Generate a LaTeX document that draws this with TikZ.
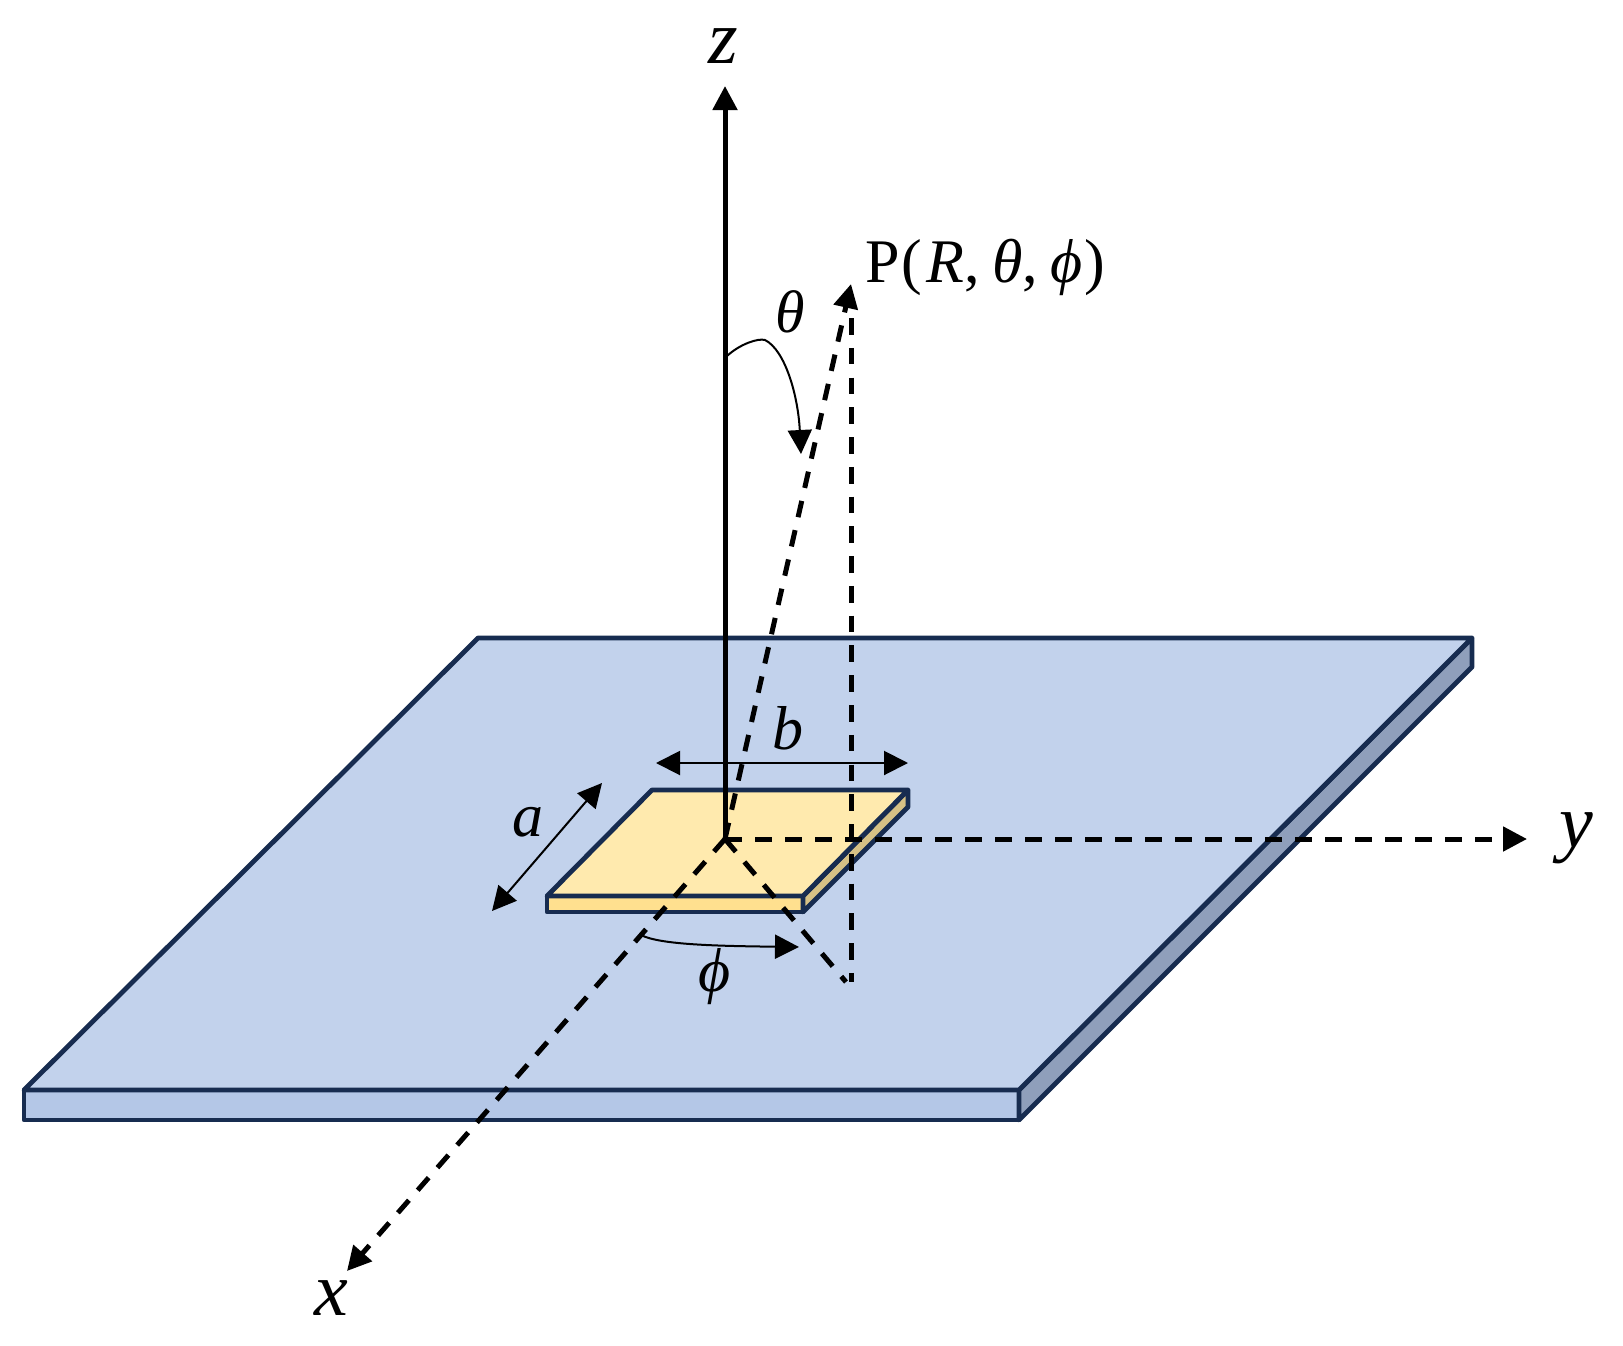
\documentclass[tikz,border=0pt]{standalone}
\usepackage{fontspec}
\setmainfont{Liberation Serif}
\usetikzlibrary{arrows.meta}
\definecolor{plateTop}{HTML}{C2D2EC}
\definecolor{plateFront}{HTML}{B4C7E7}
\definecolor{plateSide}{HTML}{8F9FBB}
\definecolor{edgeNavy}{HTML}{172C50}
\definecolor{patchTop}{HTML}{FFEAAE}
\definecolor{patchFront}{HTML}{FFE08F}
\definecolor{patchSide}{HTML}{D6C185}
\tikzset{
  x=1pt,y=-1pt,
  solid face/.style={draw=edgeNavy,line width=4.8pt,line join=round},
  head/.style={-{Triangle[length=24pt,width=24pt]}},
  bothheads/.style={{Triangle[length=24pt,width=24pt]}-{Triangle[length=24pt,width=24pt]}},
  axisdash/.style={head,line width=5pt,dash pattern=on 16.7pt off 13.3pt},
  footdash/.style={line width=5pt,dash pattern=on 16.7pt off 13.3pt},
  vertdash/.style={line width=5pt,dash pattern=on 16.7pt off 13.07pt},
  thinline/.style={line width=2pt},
  lbl/.style={inner sep=0pt,outer sep=0pt,text=black},
}
\newcommand{\sz}[1]{\fontsize{#1}{#1}\selectfont}
\begin{document}
\begin{tikzpicture}
\useasboundingbox (0,0) rectangle (1623,1346);
% coordinates
\coordinate (O) at (725,839);
\coordinate (Ztip) at (725,86);
\coordinate (Ytip) at (1527,839);
\coordinate (Xtip) at (347,1271);
\coordinate (Ptip) at (851,284);
\coordinate (Foot) at (851.5,982);
\coordinate (FootL) at (846,982);
\coordinate (Vtop) at (851.5,318);
% ground plate
\coordinate (g1) at (478,638);
\coordinate (g2) at (1472,638);
\coordinate (g3) at (1019,1090);
\coordinate (g4) at (24,1090);
\coordinate (g5) at (24,1120);
\coordinate (g6) at (1019,1120);
\coordinate (g7) at (1472,667);
\draw[solid face,fill=plateFront] (g4) -- (g3) -- (g6) -- (g5) -- cycle;
\draw[solid face,fill=plateSide] (g3) -- (g2) -- (g7) -- (g6) -- cycle;
\draw[solid face,fill=plateTop] (g1) -- (g2) -- (g3) -- (g4) -- cycle;
% patch
\coordinate (p1) at (652,790);
\coordinate (p2) at (908,790);
\coordinate (p3) at (803,896);
\coordinate (p4) at (547,896);
\coordinate (p5) at (547,912);
\coordinate (p6) at (803,912);
\coordinate (p7) at (908,807);
\draw[solid face,fill=patchFront] (p4) -- (p3) -- (p6) -- (p5) -- cycle;
\draw[solid face,fill=patchSide] (p3) -- (p2) -- (p7) -- (p6) -- cycle;
\draw[solid face,fill=patchTop] (p1) -- (p2) -- (p3) -- (p4) -- cycle;
% axes
\draw[head,line width=5pt] (O) -- (Ztip);
\draw[axisdash] (O) -- (Ytip);
\draw[axisdash] (O) -- (Xtip);
\draw[axisdash] (O) -- (Ptip);
\draw[footdash] (O) -- (FootL);
\draw[vertdash] (Vtop) -- (Foot);
% dimension arrows
\coordinate (bL) at (656,763);
\coordinate (bR) at (908,763);
\coordinate (aT) at (602,783);
\coordinate (aB) at (492,911);
\draw[bothheads,thinline] (bL) -- (bR);
\draw[bothheads,thinline] (aB) -- (aT);
% angle arrows
\coordinate (thS) at (727,356);
\coordinate (thE) at (801,454);
\coordinate (phS) at (641,935);
\coordinate (phE) at (799,947);
\draw[head,thinline] (thS) .. controls (740,344) and (758,338) .. (765,340)
  .. controls (785,350) and (798,395) .. (thE);
\draw[head,thinline] (phS) .. controls (660,945) and (720,946) .. (phE);
% labels
\node[lbl] (zl) at (723,46) {\sz{76}\textit{z}};
\node[lbl] (yl) at (1576,838) {\sz{76}\textit{y}};
\node[lbl] (xl) at (331,1298) {\sz{76}\textit{x}};
\node[lbl] (al) at (528,822) {\sz{62}\textit{a}};
\node[lbl] (bl) at (788,728) {\sz{62}\textit{b}};
\node[lbl] (tl) at (790,312) {\sz{60}\textit{θ}};
\node[lbl] (fl) at (715,977) {\sz{62}\textit{ϕ}};
\node[lbl,anchor=base west] (pl) at (865,282) {\sz{62}P\hspace{2pt}(\hspace{4pt}\textit{R},\hspace{13pt}\textit{θ},\hspace{12pt}\textit{ϕ}\hspace{2pt})};
\end{tikzpicture}
\end{document}
